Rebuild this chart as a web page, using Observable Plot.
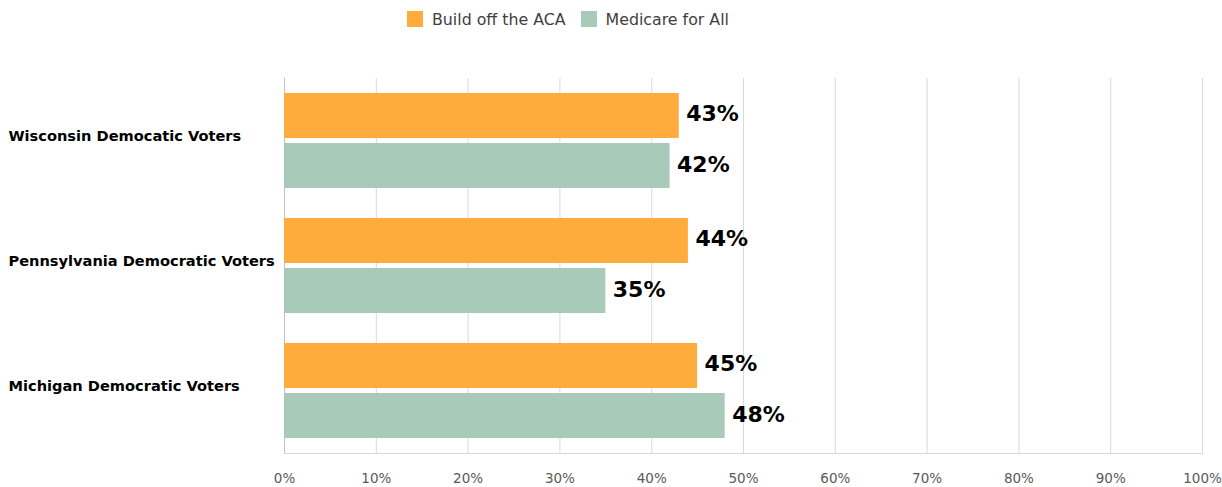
<!DOCTYPE html>
<html>
<head>
<meta charset="utf-8">
<script src="https://cdn.jsdelivr.net/npm/d3@7"></script>
<script src="https://cdn.jsdelivr.net/npm/@observablehq/plot@0.6"></script>
<style>
  body { margin: 0; background: #fff; font-family: "DejaVu Sans", sans-serif; }
  #legend { height: 34px; padding-top: 4px; display: flex; align-items: center; padding-left: 407px; box-sizing: border-box; font-size: 15.8px; color: #404040; }
  .item { display: flex; align-items: center; margin-right: 15px; }
  .sw { width: 16px; height: 16px; margin-right: 9px; }
  #chart svg { display: block; }
</style>
</head>
<body>
<div id="legend"></div>
<div id="chart"></div>
<script>
const states = ["Wisconsin Democatic Voters", "Pennsylvania Democratic Voters", "Michigan Democratic Voters"];
const series = ["Build off the ACA", "Medicare for All"];
const acaValues = [43, 44, 45];
const m4aValues = [42, 35, 48];
const xTicks = [0, 10, 20, 30, 40, 50, 60, 70, 80, 90, 100];
const colors = ["#FFAC3D", "#A8CAB8"];

const aca = states.map((s, i) => ({state: s, series: series[0], value: acaValues[i]}));
const m4a = states.map((s, i) => ({state: s, series: series[1], value: m4aValues[i]}));

const legend = document.getElementById("legend");
series.forEach((s, i) => {
  const it = document.createElement("div");
  it.className = "item";
  it.innerHTML = `<span class="sw" style="background:${colors[i]}"></span><span>${s}</span>`;
  legend.appendChild(it);
});

const chart = Plot.plot({
  width: 1222,
  height: 453,
  marginTop: 44,
  marginBottom: 34,
  marginLeft: 284,
  marginRight: 20,
  style: {fontFamily: "DejaVu Sans, sans-serif", background: "#fff"},
  x: {domain: [0, 100]},
  y: {domain: states, axis: null, padding: 0},
  marks: [
    Plot.ruleX(xTicks.filter(d => d > 0), {x: d => d, stroke: "#d9d9d9", strokeWidth: 1}),
    Plot.ruleX([0], {stroke: "#bfbfbf", strokeWidth: 1}),
    Plot.frame({anchor: "bottom", stroke: "#d9d9d9"}),
    Plot.axisX({ticks: xTicks, tickFormat: d => d + "%", tickSize: 0, tickPadding: 20, label: null, fontSize: 13.5, fill: "#595959"}),
    Plot.barX(aca, {y: "state", x: "value", fill: colors[0], insetTop: 15, insetBottom: 65}),
    Plot.barX(m4a, {y: "state", x: "value", fill: colors[1], insetTop: 65, insetBottom: 15}),
    Plot.text(aca, {y: "state", x: "value", text: d => d.value + "%", dy: -27, dx: 7, textAnchor: "start", fontSize: 22, fontWeight: "bold", fill: "#000"}),
    Plot.text(m4a, {y: "state", x: "value", text: d => d.value + "%", dy: 24, dx: 7, textAnchor: "start", fontSize: 22, fontWeight: "bold", fill: "#000"}),
    Plot.text(states, {y: d => d, text: d => d, frameAnchor: "left", dx: -276, dy: -5, textAnchor: "start", fontSize: 14.6, fontWeight: "bold", fill: "#000"})
  ]
});
document.getElementById("chart").appendChild(chart);
</script>
</body>
</html>
